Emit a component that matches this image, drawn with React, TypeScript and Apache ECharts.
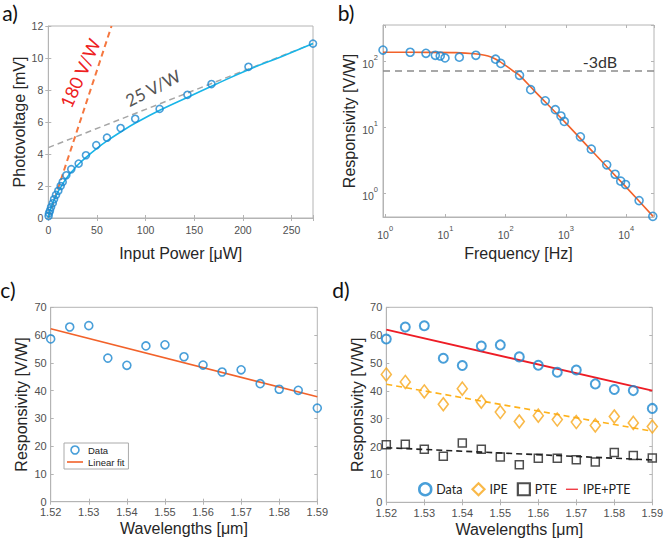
import React, { useEffect, useRef } from 'react';
import * as echarts from 'echarts';

// ---------- Panel a: photovoltage vs input power ----------
const aDataX = [0.3, 0.7, 1.7, 2.8, 4.6, 5.9, 7.9, 10.3, 12.7, 14.8, 18.5, 23.6, 31.2, 38.7, 49.3, 60.3, 74.3, 89.3, 114.4, 143, 167.7, 205.7, 272];
const aDataY = [0.13, 0.3, 0.46, 0.67, 0.92, 1.17, 1.44, 1.7, 2.0, 2.25, 2.67, 3.05, 3.4, 3.92, 4.55, 5.02, 5.62, 6.2, 6.82, 7.7, 8.37, 9.45, 10.9];
const aFitX = [0, 1, 2, 4, 6, 8, 10, 13, 16, 20, 25, 30, 40, 50, 60, 75, 90, 115, 145, 170, 205, 240, 272];
const aFitY = [0, 0.3, 0.5, 0.85, 1.15, 1.4, 1.65, 1.95, 2.25, 2.6, 2.95, 3.3, 3.85, 4.35, 4.8, 5.4, 5.95, 6.75, 7.6, 8.3, 9.25, 10.1, 10.9];
const a180X = [0, 65];
const a180Y = [0, 12];
const a25X = [0, 272];
const a25Y = [4.4, 10.9];

// ---------- Panel b: responsivity vs frequency ----------
const bFreq = [0.92, 2.6, 4.75, 6.8, 8.2, 9.85, 17, 32, 68, 83, 170, 260, 454, 667, 828, 940, 1740, 2640, 4760, 6560, 8130, 9770, 16400, 27700];
const bResp = [150, 139, 134, 125, 122, 114, 117, 125, 109, 94, 62, 37.6, 25.5, 18.7, 15, 12.4, 7.25, 4.71, 2.72, 1.96, 1.54, 1.37, 0.78, 0.45];
const bFitF = [0.92, 5, 15, 30, 45, 57, 70, 80, 95, 115, 140, 170, 300, 1000, 3000, 10000, 28000];
const bFitR = [139, 138.5, 137, 132, 125, 118, 108, 100, 90, 80, 70, 62, 36, 11.7, 4.0, 1.25, 0.45];
const b3dB = 72;

// ---------- Panels c & d: responsivity vs wavelength ----------
const wl = [1.52, 1.525, 1.53, 1.535, 1.54, 1.545, 1.55, 1.555, 1.56, 1.565, 1.57, 1.575, 1.58, 1.585, 1.59];
const respData = [58.6, 62.9, 63.4, 51.7, 49.1, 56.1, 56.5, 52.2, 49.2, 46.7, 47.5, 42.5, 40.5, 40.1, 33.7];
const fitEnds = [1.52, 1.59];
const cLinFit = [62.3, 37.8];
const dIPE = [45.9, 43.2, 39.8, 35.2, 40.8, 36.1, 32.4, 29.0, 31.1, 29.7, 28.8, 27.6, 30.8, 28.5, 27.2];
const dPTE = [20.7, 20.8, 19.0, 16.5, 21.3, 19.0, 16.3, 13.5, 15.8, 15.8, 15.3, 14.5, 17.9, 16.8, 15.9];
const dIPEFit = [42.4, 25.5];
const dPTEFit = [19.6, 15.2];
const dSumFit = [62.0, 40.1];

const zip = (xs: number[], ys: number[]) => xs.map((x, i) => [x, ys[i]]);

const AX = "'Liberation Sans', Arial, sans-serif";
const CAL = "Lato, 'Open Sans', sans-serif";
const LINE = '#b4b4b4';
const LABEL = '#505050';
const BLUE = '#1b87d0';
const ORANGE = '#f2622a';
const RED = '#ee1c25';
const GOLD = '#f7a81b';
const LINE_ICON = 'path://M0,0H20V2H0Z';

function logLabel(v: number) {
  const l = Math.log10(v);
  const r = Math.round(l);
  if (Math.abs(l - r) > 1e-6) return '';
  return `{b|10}{s|${r}}`;
}
const logRich = {
  b: { fontSize: 10.5, color: LABEL, fontFamily: AX, lineHeight: 16, verticalAlign: 'bottom' },
  s: { fontSize: 7.5, color: LABEL, fontFamily: AX, lineHeight: 16, verticalAlign: 'top' },
};

function axisPair(kind: 'x' | 'y', gridIndex: number, base: any, name: string, nameGap: number, fontSize: number, formatter: any, rich?: any, margin = 5) {
  const common = {
    gridIndex,
    ...base,
    axisLine: { show: true, lineStyle: { color: LINE, width: 1 } },
    axisTick: { show: true, inside: true, length: 3, lineStyle: { color: LINE } },
    splitLine: { show: false },
  };
  const main = {
    ...common,
    position: kind === 'x' ? 'bottom' : 'left',
    name,
    nameLocation: 'middle',
    nameGap,
    nameTextStyle: { fontSize: 16, fontFamily: AX, color: '#262626' },
    axisLabel: { show: true, fontSize, fontFamily: AX, color: LABEL, formatter, rich, margin },
  };
  const sec = {
    ...common,
    position: kind === 'x' ? 'top' : 'right',
    axisLabel: { show: false },
    axisLine: { show: false },
  };
  return [main, sec];
}

export default function App() {
  const ref = useRef<HTMLDivElement>(null);
  useEffect(() => {
    if (!ref.current) return;
    const chart = echarts.init(ref.current, undefined, { renderer: 'svg' });

    const grids = [
      { left: 48.3, top: 26, width: 264.7, height: 192 },
      { left: 383, top: 25, width: 271, height: 192 },
      { left: 50.7, top: 307.3, width: 266.6, height: 194.4 },
      { left: 386.3, top: 307.3, width: 268.4, height: 195 },
    ].map((g) => ({ ...g, show: true, borderColor: LINE, borderWidth: 1, backgroundColor: '#fff' }));

    const hideOff = (step: number) => (v: number) => (Math.abs(v / step - Math.round(v / step)) < 1e-6 ? String(v) : '');
    const wlFmt = (v: number) => v.toFixed(2);

    const xAxis = [
      ...axisPair('x', 0, { type: 'value', min: 0, max: 272, interval: 50 }, 'Input Power [μW]', 27, 10.5, hideOff(50), undefined, 6),
      ...axisPair('x', 1, { type: 'log', logBase: 10, min: 0.92, max: 29000 }, 'Frequency [Hz]', 28, 10.5, logLabel, logRich, 7),
      ...axisPair('x', 2, { type: 'value', min: 1.52, max: 1.59, interval: 0.01 }, 'Wavelengths [μm]', 19, 11, wlFmt, undefined, 5),
      ...axisPair('x', 3, { type: 'value', min: 1.52, max: 1.59, interval: 0.01 }, 'Wavelengths [μm]', 19, 11, wlFmt, undefined, 5),
    ];
    const yAxis = [
      ...axisPair('y', 0, { type: 'value', min: 0, max: 12, interval: 2 }, 'Photovoltage [mV]', 17, 10.5, undefined, undefined, 5),
      ...axisPair('y', 1, { type: 'log', logBase: 10, min: 0.44, max: 360 }, 'Responsivity [V/W]', 26, 10.5, logLabel, logRich, 5),
      ...axisPair('y', 2, { type: 'value', min: 0, max: 70, interval: 10 }, 'Responsivity [V/W]', 21, 11, undefined, undefined, 4),
      ...axisPair('y', 3, { type: 'value', min: 0, max: 70, interval: 10 }, 'Responsivity [V/W]', 21, 11, undefined, undefined, 4),
    ];

    const hollow = (color: string, w: number) => ({ color: 'transparent', borderColor: color, borderWidth: w });

    const series: any[] = [
      // a
      { type: 'line', name: 'aFit', xAxisIndex: 0, yAxisIndex: 0, data: zip(aFitX, aFitY), smooth: true, symbol: 'none', itemStyle: { color: '#19b5e8' }, lineStyle: { color: '#19b5e8', width: 1.6 }, z: 3 },
      { type: 'line', name: 'a180', xAxisIndex: 0, yAxisIndex: 0, data: zip(a180X, a180Y), symbol: 'none', itemStyle: { color: '#f5773f' }, lineStyle: { color: '#f5773f', width: 2, type: [6, 4] }, z: 2 },
      { type: 'line', name: 'a25', xAxisIndex: 0, yAxisIndex: 0, data: zip(a25X, a25Y), symbol: 'none', itemStyle: { color: '#a6a6a6' }, lineStyle: { color: '#a6a6a6', width: 1.5, type: [6, 4] }, z: 2 },
      { type: 'scatter', name: 'aData', xAxisIndex: 0, yAxisIndex: 0, data: zip(aDataX, aDataY), symbol: 'circle', symbolSize: 7, itemStyle: hollow(BLUE, 1.6), z: 5 },
      // b
      {
        type: 'line', name: 'bFit', xAxisIndex: 2, yAxisIndex: 2, data: zip(bFitF, bFitR), smooth: 0.3, symbol: 'none',
        itemStyle: { color: ORANGE }, lineStyle: { color: ORANGE, width: 1.6 }, z: 3,
        markLine: { silent: true, symbol: 'none', label: { show: false }, data: [{ yAxis: b3dB }], lineStyle: { type: [7, 5], color: '#8c8c8c', width: 1.5 } },
      },
      { type: 'scatter', name: 'bData', xAxisIndex: 2, yAxisIndex: 2, data: zip(bFreq, bResp), symbol: 'circle', symbolSize: 8, itemStyle: hollow(BLUE, 1.6), z: 5 },
      // c
      { type: 'line', name: 'Linear fit', xAxisIndex: 4, yAxisIndex: 4, data: zip(fitEnds, cLinFit), symbol: 'none', itemStyle: { color: ORANGE }, lineStyle: { color: ORANGE, width: 1.6 }, z: 3 },
      { type: 'scatter', name: 'Data', xAxisIndex: 4, yAxisIndex: 4, data: zip(wl, respData), symbol: 'circle', symbolSize: 8, itemStyle: hollow(BLUE, 1.6), z: 5 },
      // d
      { type: 'line', name: 'IPE+PTE', xAxisIndex: 6, yAxisIndex: 6, data: zip(fitEnds, dSumFit), symbol: 'none', itemStyle: { color: RED }, lineStyle: { color: RED, width: 1.8 }, z: 3 },
      { type: 'line', name: 'IPE fit', xAxisIndex: 6, yAxisIndex: 6, data: zip(fitEnds, dIPEFit), symbol: 'none', itemStyle: { color: '#ffb21a' }, lineStyle: { color: '#ffb21a', width: 1.6, type: [6, 4] }, z: 3 },
      { type: 'line', name: 'PTE fit', xAxisIndex: 6, yAxisIndex: 6, data: zip(fitEnds, dPTEFit), symbol: 'none', itemStyle: { color: '#222' }, lineStyle: { color: '#222', width: 1.6, type: [6, 4] }, z: 3 },
      { type: 'scatter', name: 'Data', xAxisIndex: 6, yAxisIndex: 6, data: zip(wl, respData), symbol: 'circle', symbolSize: 9, itemStyle: hollow(BLUE, 2), z: 5 },
      { type: 'scatter', name: 'IPE', xAxisIndex: 6, yAxisIndex: 6, data: zip(wl, dIPE), symbol: 'diamond', symbolSize: [10, 13], itemStyle: hollow(GOLD, 1.6), z: 5 },
      { type: 'scatter', name: 'PTE', xAxisIndex: 6, yAxisIndex: 6, data: zip(wl, dPTE), symbol: 'rect', symbolSize: 8, itemStyle: hollow('#222', 1.5), z: 5 },
    ];

    const legend = [
      {
        orient: 'vertical', left: 64, top: 443, padding: [2, 4, 2, 3], itemGap: 2, itemWidth: 16, itemHeight: 8,
        backgroundColor: '#fff', borderColor: '#aaa', borderWidth: 1, selectedMode: false,
        textStyle: { fontSize: 9.5, fontFamily: AX, color: '#222' },
        data: [
          { name: 'Data', icon: 'circle', itemStyle: hollow(BLUE, 1.6) },
          { name: 'Linear fit', icon: LINE_ICON, itemStyle: { color: ORANGE, borderWidth: 0 } },
        ],
      },
      {
        orient: 'horizontal', left: 418, top: 482, width: 245, padding: 0, itemGap: 9, itemWidth: 12, itemHeight: 12, selectedMode: false,
        textStyle: { fontSize: 12.5, fontFamily: CAL, color: '#222' },
        data: [
          { name: 'Data', icon: 'circle', itemStyle: hollow(BLUE, 2.5) },
          { name: 'IPE', icon: 'diamond', itemStyle: hollow(GOLD, 2.2) },
          { name: 'PTE', icon: 'rect', itemStyle: hollow('#222', 2.2) },
          { name: 'IPE+PTE', icon: LINE_ICON, itemStyle: { color: RED, borderWidth: 0 } },
        ],
      },
    ];

    const txt = (text: string, x: number, y: number, size: number, color: string, rot = 0) => ({
      type: 'text', x, y, rotation: (rot * Math.PI) / 180, z: 100,
      style: { text, fontSize: size, fontFamily: CAL, fill: color, textAlign: 'center', textVerticalAlign: 'middle' },
    });

    const graphic = [
      txt('a)', 10, 12, 21, '#111'),
      txt('b)', 346, 12, 21, '#111'),
      txt('c)', 8, 289, 21, '#111'),
      txt('d)', 341, 289, 21, '#111'),
      txt('180 V/W', 80, 73, 18, '#ee2020', 66),
      txt('25 V/W', 153, 88, 17, '#555', 27),
      txt('-3dB', 600, 61, 16, '#333'),
    ];

    chart.setOption({
      animation: false,
      backgroundColor: '#fff',
      grid: grids,
      xAxis,
      yAxis,
      series,
      legend,
      graphic,
    });
    return () => chart.dispose();
  }, []);
  return <div ref={ref} style={{ position: 'absolute', left: 0, top: 0, width: 666, height: 541 }} />;
}
